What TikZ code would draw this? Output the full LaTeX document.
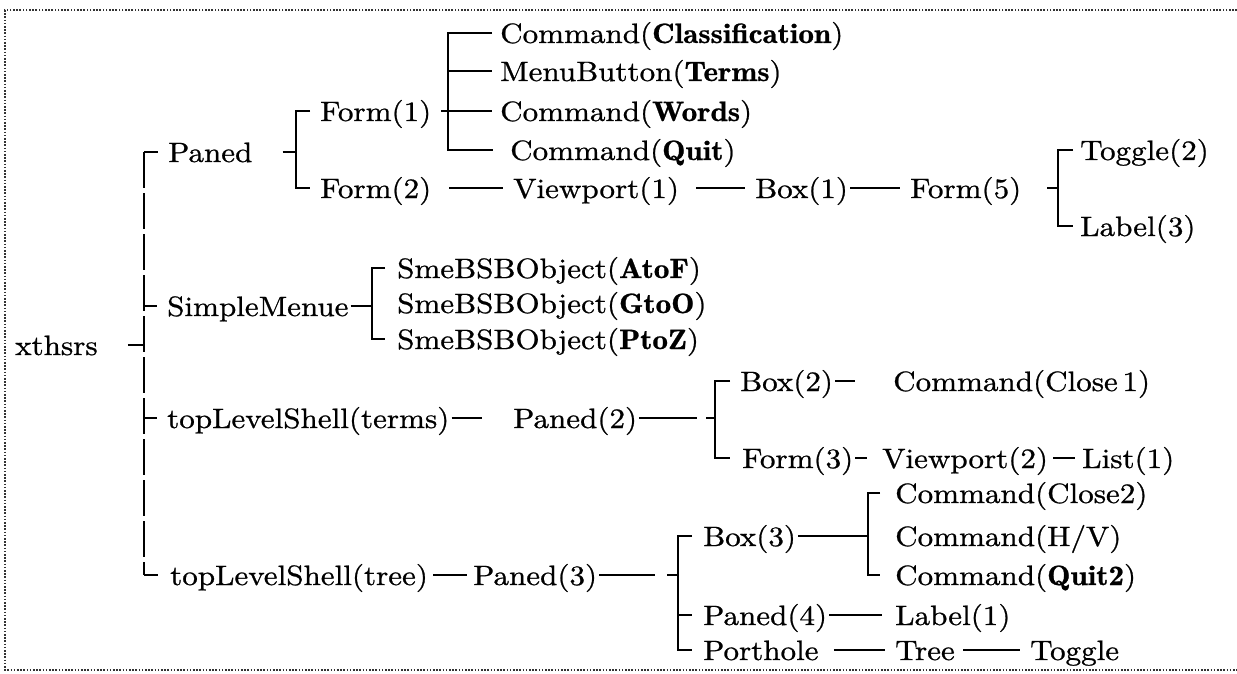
\documentclass[tikz,border=0pt]{standalone}
\usepackage{fontspec}
\setmainfont{lmroman10-regular.otf}[FakeStretch=1.11,FakeBold=0.8,BoldFont=lmromandemi10-regular.otf]
\newcommand\fsz{\fontsize{28pt}{31pt}\selectfont}
\tikzset{
  lbl/.style={anchor=west, inner sep=0pt, text height=20pt, text depth=0pt, font=\fsz},
  ln/.style={line width=1.2pt, line cap=butt},
  trunkline/.style={ln, dash pattern=on 36pt off 5pt},
  border/.style={line width=1.3pt, dash pattern=on 1.6pt off 1.6pt, black!80}
}
\begin{document}
\begin{tikzpicture}[x=1pt,y=-1pt]
\useasboundingbox (0,0) rectangle (1237,674);
% dotted frame (right side cut off)
\draw[border] (1237,10) -- (5,10) -- (5,670) -- (1237,670);

% ---- nodes
\node[lbl] (root) at (15,345) {xthsrs};
\node[lbl] (paned) at (168,152) {Paned};
\node[lbl] (f1) at (320,111) {Form(1)};
\node[lbl] (f2) at (320,188) {Form(2)};
\node[lbl] (c1) at (500,33) {Command(\textbf{Classification})};
\node[lbl] (c2) at (500,71) {MenuButton(\textbf{Terms})};
\node[lbl] (c3) at (500,111) {Command(\textbf{Words})};
\node[lbl] (c4) at (510,150) {Command(\textbf{Quit})};
\node[lbl] (vp1) at (513,188) {Viewport(1)};
\node[lbl] (box1) at (755,188) {Box(1)};
\node[lbl] (f5) at (910,188) {Form(5)};
\node[lbl] (tog2) at (1080,150) {Toggle(2)};
\node[lbl] (lab3) at (1080,226) {Label(3)};
\node[lbl] (sm) at (167,306) {SimpleMenue};
\node[lbl] (sa) at (397,268) {SmeBSBObject(\textbf{AtoF})};
\node[lbl] (sg) at (397,303) {SmeBSBObject(\textbf{GtoO})};
\node[lbl] (sp) at (397,339) {SmeBSBObject(\textbf{PtoZ})};
\node[lbl] (tls1) at (167,418) {topLevelShell(terms)};
\node[lbl] (pn2) at (513,418) {Paned(2)};
\node[lbl] (box2) at (740,381) {Box(2)};
\node[lbl] (cl1) at (893,381) {Command(Close\,1)};
\node[lbl] (f3) at (742,458) {Form(3)};
\node[lbl] (vp2) at (882,458) {Viewport(2)};
\node[lbl] (list1) at (1082,458) {List(1)};
\node[lbl] (tls2) at (170,575) {topLevelShell(tree)};
\node[lbl] (pn3) at (473,575) {Paned(3)};
\node[lbl] (box3) at (703,536) {Box(3)};
\node[lbl] (cl2) at (895,493) {Command(Close2)};
\node[lbl] (hv) at (895,536) {Command(H/V)};
\node[lbl] (q2) at (895,575) {Command(\textbf{Quit2})};
\node[lbl] (pn4) at (703,615) {Paned(4)};
\node[lbl] (lab1) at (895,615) {Label(1)};
\node[lbl] (port) at (703,650) {Porthole};
\node[lbl] (tree) at (895,650) {Tree};
\node[lbl] (tgl) at (1030,650) {Toggle};

% ---- vertical bar positions
\coordinate (vT) at (144,0);
\coordinate (vA) at (296,0);
\coordinate (vB) at (448,0);
\coordinate (vC) at (1058,0);
\coordinate (vD) at (372,0);
\coordinate (vE) at (715,0);
\coordinate (vF) at (678,0);
\coordinate (vG) at (868,0);

% ---- root trunk
\draw[ln] ([xshift=30pt]root.east) -- (vT |- root.west);
\draw[trunkline] (vT |- paned.west) -- (vT |- tls2.west);
\draw[ln] (vT |- paned.west) -- ([xshift=-10pt]paned.west);
\draw[ln] (vT |- sm.west) -- ([xshift=-10pt]sm.west);
\draw[ln] (vT |- tls1.west) -- ([xshift=-10pt]tls1.west);
\draw[ln] (vT |- tls2.west) -- ([xshift=-12pt]tls2.west);

% ---- Paned
\draw[ln] ([xshift=30pt]paned.east) -- (vA |- paned.west);
\draw[ln] ([xshift=-10pt]f1.west) -| (vA |- f2.west) -- ([xshift=-10pt]f2.west);

% ---- Form(1)
\draw[ln] ([xshift=10pt]f1.east) -- ([xshift=-8pt]c3.west);
\draw[ln] ([xshift=-8pt]c1.west) -| (vB |- c4.west) -- ([xshift=-17pt]c4.west);
\draw[ln] (vB |- c2.west) -- ([xshift=-8pt]c2.west);

% ---- Form(2) chain
\draw[ln] ([xshift=18pt]f2.east) -- ([xshift=-10pt]vp1.west);
\draw[ln] ([xshift=17pt]vp1.east) -- ([xshift=-10pt]box1.west);
\draw[ln] ([xshift=2pt]box1.east) -- ([xshift=-10pt]f5.west);
\draw[ln] ([xshift=26pt]f5.east) -- (vC |- f5.west);
\draw[ln] ([xshift=-7pt]tog2.west) -| (vC |- lab3.west) -- ([xshift=-7pt]lab3.west);

% ---- SimpleMenue
\draw[ln] ([xshift=2pt]sm.east) -- (vD |- sm.west);
\draw[ln] ([xshift=-12pt]sa.west) -| (vD |- sp.west) -- ([xshift=-12pt]sp.west);

% ---- topLevelShell(terms)
\draw[ln] ([xshift=2pt]tls1.east) -- ([xshift=-31pt]pn2.west);
\draw[ln] ([xshift=2pt]pn2.east) -- ([xshift=60pt]pn2.east);
\draw[ln] ([xshift=69pt]pn2.east) -- (vE |- pn2.west);
\draw[ln] ([xshift=-10pt]box2.west) -| (vE |- f3.west) -- ([xshift=-12pt]f3.west);
\draw[ln] ([xshift=2pt]box2.east) -- ([xshift=-38pt]cl1.west);
\draw[ln] ([xshift=2pt]f3.east) -- ([xshift=-15pt]vp2.west);
\draw[ln] ([xshift=5pt]vp2.east) -- ([xshift=-7pt]list1.west);

% ---- topLevelShell(tree)
\draw[ln] ([xshift=5pt]tls2.east) -- ([xshift=-6pt]pn3.west);
\draw[ln] ([xshift=2pt]pn3.east) -- ([xshift=58pt]pn3.east);
\draw[ln] ([xshift=70pt]pn3.east) -- (vF |- pn3.west);
\draw[ln] ([xshift=-11pt]box3.west) -| (vF |- port.west) -- ([xshift=-11pt]port.west);
\draw[ln] (vF |- pn4.west) -- ([xshift=-11pt]pn4.west);
\draw[ln] ([xshift=2pt]box3.east) -- (vG |- box3.west);
\draw[ln] ([xshift=-15pt]cl2.west) -| (vG |- q2.west) -- ([xshift=-15pt]q2.west);
\draw[ln] ([xshift=2pt]pn4.east) -- ([xshift=-13pt]lab1.west);
\draw[ln] ([xshift=15pt]port.east) -- ([xshift=-10pt]tree.west);
\draw[ln] ([xshift=8pt]tree.east) -- ([xshift=-10pt]tgl.west);
\end{tikzpicture}
\end{document}
